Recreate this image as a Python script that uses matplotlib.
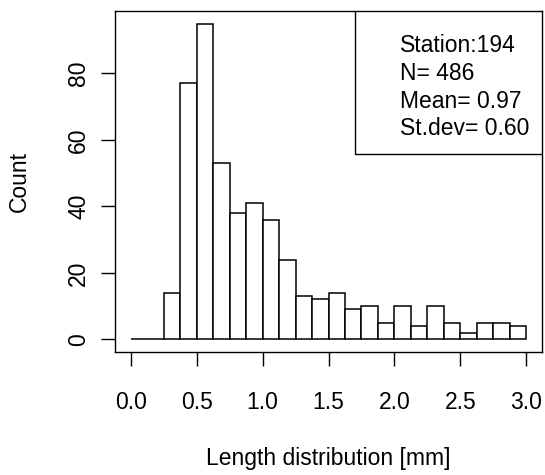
import numpy as np
import matplotlib
matplotlib.use("Agg")
import matplotlib.pyplot as plt
from matplotlib.patches import Rectangle

# histogram of lengths, bins of 0.125 mm from 0 to 3
bin_edges = np.arange(0, 3.0001, 0.125)
counts = [0, 0, 14, 77, 95, 53, 38, 41, 36, 24, 13, 12,
          14, 9, 10, 5, 10, 4, 10, 5, 2, 5, 5, 4]
x_ticks = [0.0, 0.5, 1.0, 1.5, 2.0, 2.5, 3.0]
y_ticks = [0, 20, 40, 60, 80]
legend_lines = ["Station:194", "N= 486", "Mean= 0.97", "St.dev= 0.60"]

plt.rcParams['font.family'] = ['Liberation Sans', 'DejaVu Sans']
fs = 16.5

fig = plt.figure(figsize=(5.45, 4.75), dpi=100)
ax = fig.add_axes([115 / 545, 1 - 352 / 475, 427 / 545, 341 / 475])

ax.bar(bin_edges[:-1], counts, width=0.125, align='edge',
       facecolor='white', edgecolor='black', linewidth=1.1)

ax.set_xlim(-0.12, 3.12)
ax.set_ylim(-3.8, 98.8)
ax.set_xticks(x_ticks)
ax.set_xticklabels(["%.1f" % v for v in x_ticks])
ax.set_yticks(y_ticks)
ax.set_yticklabels([str(v) for v in y_ticks], rotation=90, va='center')
ax.tick_params(direction='out', length=10, width=1.0, labelsize=fs)
ax.tick_params(axis='x', pad=18)
ax.tick_params(axis='y', pad=8)
for s in ax.spines.values():
    s.set_linewidth(1.0)

# stats box in the top right corner
ax.add_patch(Rectangle((0.562, 0.581), 0.438, 0.419, transform=ax.transAxes,
                       facecolor='white', edgecolor='black', linewidth=1.0,
                       zorder=3))
for i, line in enumerate(legend_lines):
    ax.text(0.667, 0.879 - i * 0.0812, line, transform=ax.transAxes,
            ha='left', va='baseline', fontsize=fs, zorder=4)

fig.text(328 / 545, 1 - 458 / 475, "Length distribution [mm]",
         ha='center', va='center', fontsize=fs)
fig.text(19 / 545, 1 - 181 / 475, "Count", rotation=90,
         ha='center', va='center', fontsize=fs)

plt.savefig("out.png", dpi=100)
